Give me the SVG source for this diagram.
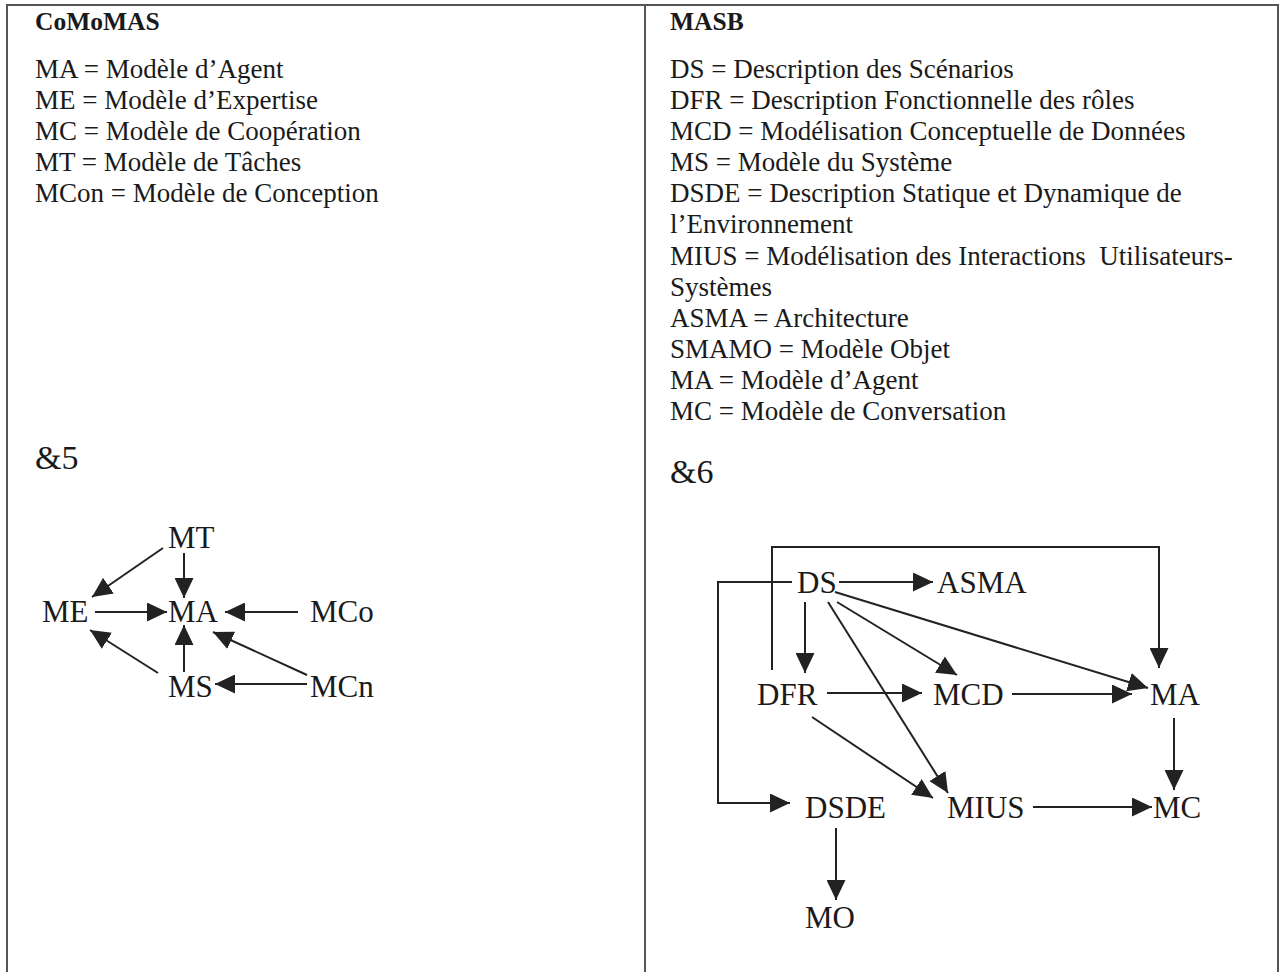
<svg xmlns="http://www.w3.org/2000/svg" width="1281" height="972" viewBox="0 0 1281 972">
<style>
.t{font-family:"Liberation Serif","Times New Roman",serif;font-size:27px;fill:#1a1a1a}
.h{font-family:"Liberation Serif","Times New Roman",serif;font-size:25.5px;font-weight:bold;fill:#1a1a1a}
.n{font-family:"Liberation Serif","Times New Roman",serif;font-size:31px;fill:#1a1a1a}
.amp{font-family:"Liberation Serif","Times New Roman",serif;font-size:34px;fill:#1a1a1a}
.b{stroke:#555;stroke-width:2;fill:none}
.c line,.c polyline{stroke:#222;stroke-width:2;fill:none;marker-end:url(#ah)}
</style>
<defs>
<marker id="ah" markerUnits="userSpaceOnUse" markerWidth="21" markerHeight="19" refX="20" refY="9.5" orient="auto">
<path d="M0,0 L20,9.5 L0,19 z" fill="#222"/>
</marker>
</defs>
<rect width="1281" height="972" fill="#fff"/>
<g id="table">
<line class="b" x1="6" y1="5" x2="1279" y2="5"/>
<line class="b" x1="7" y1="5" x2="7" y2="972"/>
<line class="b" x1="645" y1="5" x2="645" y2="972"/>
<line class="b" x1="1278" y1="5" x2="1278" y2="972"/>
</g>
<g id="left-legend">
<text class="h" x="35" y="30">CoMoMAS</text>
<text class="t" x="35" y="78">MA = Modèle d’Agent</text>
<text class="t" x="35" y="109">ME = Modèle d’Expertise</text>
<text class="t" x="35" y="140">MC = Modèle de Coopération</text>
<text class="t" x="35" y="171">MT = Modèle de Tâches</text>
<text class="t" x="35" y="202">MCon = Modèle de Conception</text>
<text class="amp" x="35" y="469">&amp;5</text>
</g>
<g id="right-legend">
<text class="h" x="670" y="30">MASB</text>
<text class="t" x="670" y="78">DS = Description des Scénarios</text>
<text class="t" x="670" y="109">DFR = Description Fonctionnelle des rôles</text>
<text class="t" x="670" y="140">MCD = Modélisation Conceptuelle de Données</text>
<text class="t" x="670" y="171">MS = Modèle du Système</text>
<text class="t" x="670" y="202">DSDE = Description Statique et Dynamique de</text>
<text class="t" x="670" y="233">l’Environnement</text>
<text class="t" x="670" y="265">MIUS = Modélisation des Interactions &#160;Utilisateurs-</text>
<text class="t" x="670" y="296">Systèmes</text>
<text class="t" x="670" y="327">ASMA = Architecture</text>
<text class="t" x="670" y="358">SMAMO = Modèle Objet</text>
<text class="t" x="670" y="389">MA = Modèle d’Agent</text>
<text class="t" x="670" y="420">MC = Modèle de Conversation</text>
<text class="amp" x="670" y="483">&amp;6</text>
</g>
<g id="l-MT"><text class="n" x="168" y="548">MT</text></g>
<g id="l-ME"><text class="n" x="42" y="622">ME</text></g>
<g id="l-MA"><text class="n" x="168" y="622">MA</text></g>
<g id="l-MCo"><text class="n" x="310" y="622">MCo</text></g>
<g id="l-MS"><text class="n" x="168" y="697">MS</text></g>
<g id="l-MCn"><text class="n" x="310" y="697">MCn</text></g>
<g id="r-DS"><text class="n" x="797" y="593">DS</text></g>
<g id="r-ASMA"><text class="n" x="937" y="593">ASMA</text></g>
<g id="r-DFR"><text class="n" x="757" y="705">DFR</text></g>
<g id="r-MCD"><text class="n" x="933" y="705">MCD</text></g>
<g id="r-MA"><text class="n" x="1150" y="705">MA</text></g>
<g id="r-DSDE"><text class="n" x="805" y="818">DSDE</text></g>
<g id="r-MIUS"><text class="n" x="947" y="818">MIUS</text></g>
<g id="r-MC"><text class="n" x="1153" y="818">MC</text></g>
<g id="r-MO"><text class="n" x="805" y="928">MO</text></g>
<g id="connectors" class="c">
<line x1="184" y1="553" x2="184" y2="598"/>
<line x1="163" y1="548" x2="92" y2="597"/>
<line x1="95" y1="612" x2="167" y2="612"/>
<line x1="298" y1="612" x2="225" y2="612"/>
<line x1="184" y1="672" x2="184" y2="625"/>
<line x1="158" y1="673" x2="90" y2="630"/>
<line x1="307" y1="675" x2="213" y2="632"/>
<line x1="307" y1="684" x2="215" y2="684"/>
<polyline points="772,670 772,547 1159,547 1159,668"/>
<polyline points="792,582 718,582 718,803 790,803"/>
<line x1="839" y1="582" x2="933" y2="582"/>
<line x1="805" y1="602" x2="805" y2="673"/>
<line x1="837" y1="602" x2="957" y2="675"/>
<line x1="835" y1="592" x2="1148" y2="688"/>
<line x1="828" y1="602" x2="948" y2="793"/>
<line x1="827" y1="693" x2="922" y2="693"/>
<line x1="1012" y1="694" x2="1132" y2="694"/>
<line x1="1174" y1="718" x2="1174" y2="790"/>
<line x1="812" y1="717" x2="933" y2="798"/>
<line x1="1033" y1="807" x2="1152" y2="807"/>
<line x1="836" y1="828" x2="836" y2="900"/>
</g>
</svg>
